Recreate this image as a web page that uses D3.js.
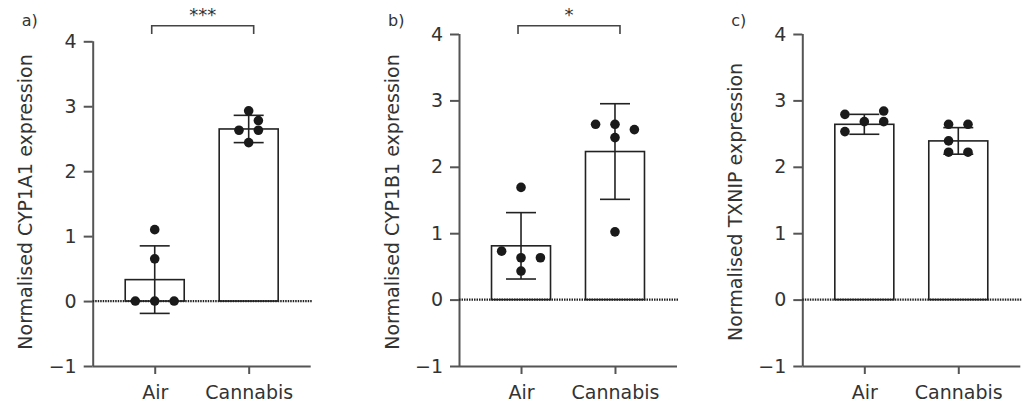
<!DOCTYPE html>
<html>
<head>
<meta charset="utf-8">
<script src="https://cdn.jsdelivr.net/npm/d3@7"></script>
<style>
  body { margin: 0; background: #fff; }
  svg { display: block; }
  text { font-family: "DejaVu Sans", sans-serif; fill: #333; }
</style>
</head>
<body>
<script>
//////////////////////////////// DATA ////////////////////////////////
var groups = ["Air", "Cannabis"];
var yTicks = [-1, 0, 1, 2, 3, 4];
var panelLetters = ["a)", "b)", "c)"];
var yLabels = ["Normalised CYP1A1 expression", "Normalised CYP1B1 expression", "Normalised TXNIP expression"];
var significance = ["***", "*", ""];

// CYP1A1
var cyp1a1Air = [1.10, 0.65, 0, 0, 0];
var cyp1a1Cannabis = [2.93, 2.78, 2.63, 2.63, 2.44];
var cyp1a1Mean = [0.33, 2.65];
var cyp1a1Sd = [0.52, 0.21];

// CYP1B1
var cyp1b1Air = [1.69, 0.73, 0.63, 0.63, 0.43];
var cyp1b1Cannabis = [2.64, 2.64, 2.56, 2.44, 1.02];
var cyp1b1Mean = [0.81, 2.23];
var cyp1b1Sd = [0.50, 0.72];

// TXNIP
var txnipAir = [2.84, 2.79, 2.68, 2.68, 2.53];
var txnipCannabis = [2.64, 2.64, 2.39, 2.22, 2.22];
var txnipMean = [2.64, 2.39];
var txnipSd = [0.15, 0.20];

// horizontal scatter slot of each dot (in dot-column units), same order as values
var cyp1a1AirSlot = [0, 0, -2, 0, 2];
var cyp1a1CannabisSlot = [0, 1, -1, 1, 0];
var cyp1b1AirSlot = [0, -2, 0, 2, 0];
var cyp1b1CannabisSlot = [-2, 0, 2, 0, 0];
var txnipAirSlot = [2, -2, 0, 2, -2];
var txnipCannabisSlot = [-1, 1, -1, -1, 1];

var panels = [
    {points: [cyp1a1Air, cyp1a1Cannabis], slots: [cyp1a1AirSlot, cyp1a1CannabisSlot], mean: cyp1a1Mean, sd: cyp1a1Sd},
    {points: [cyp1b1Air, cyp1b1Cannabis], slots: [cyp1b1AirSlot, cyp1b1CannabisSlot], mean: cyp1b1Mean, sd: cyp1b1Sd},
    {points: [txnipAir, txnipCannabis], slots: [txnipAirSlot, txnipCannabisSlot], mean: txnipMean, sd: txnipSd}
];

//////////////////////////////// LAYOUT ////////////////////////////////
var width = 1024,
    height = 404,
    axisX = [92.7, 459, 802.3],   // left edge of each plot
    yTop = [41.3, 34, 34],        // pixel of value 4
    yBottom = 366,                // pixel of value -1
    plotWidth = 218,
    barWidth = 59,
    capWidth = 30,
    slotStep = 9.7,
    dotR = 4.8,
    fontSize = "19px",
    axisColor = "#555",
    inkColor = "#222";

var svg = d3.select("body").append("svg")
    .attr("width", width)
    .attr("height", height);

panels.forEach(function (p, k) {
    var x0 = axisX[k];
    var g = svg.append("g");

    var y = d3.scaleLinear()
        .domain([-1, 4])
        .range([yBottom, yTop[k]]);

    var x = d3.scalePoint()
        .domain(groups)
        .range([x0, x0 + plotWidth])
        .padding(0.66);

    // axes
    var yAxis = g.append("g")
        .attr("transform", "translate(" + x0 + ",0)")
        .call(d3.axisLeft(y).tickValues(yTicks).tickSize(9).tickPadding(7)
            .tickFormat(function (d) { return d < 0 ? "\u2212" + Math.abs(d) : d; }));
    var xAxis = g.append("g")
        .attr("transform", "translate(0," + yBottom + ")")
        .call(d3.axisBottom(x).tickSize(8).tickPadding(12));

    [yAxis, xAxis].forEach(function (ax) {
        ax.select(".domain").attr("stroke", axisColor).attr("stroke-width", 2);
        ax.selectAll(".tick line").attr("stroke", axisColor).attr("stroke-width", 2);
        ax.selectAll(".tick text")
            .attr("font-size", fontSize)
            .attr("font-family", "DejaVu Sans, sans-serif")
            .attr("fill", "#333");
    });
    // flatten the outer ticks of the domain paths
    xAxis.select(".domain").attr("d", "M" + x0 + ",0.5H" + (x0 + plotWidth));
    yAxis.select(".domain").attr("d", "M0.5," + yBottom + "V" + yTop[k]);

    // bars
    g.selectAll("rect.bar")
        .data(p.mean)
        .enter()
        .append("rect")
        .attr("class", "bar")
        .attr("x", function (d, i) { return x(groups[i]) - barWidth / 2; })
        .attr("width", barWidth)
        .attr("y", function (d) { return y(Math.max(d, 0)); })
        .attr("height", function (d) { return Math.abs(y(d) - y(0)); })
        .attr("fill", "#fff")
        .attr("stroke", inkColor)
        .attr("stroke-width", 1.6);

    // dotted zero line
    g.append("line")
        .attr("x1", x0)
        .attr("x2", x0 + plotWidth + 2)
        .attr("y1", y(0))
        .attr("y2", y(0))
        .attr("stroke", "#222")
        .attr("stroke-width", 2.2)
        .attr("stroke-dasharray", "1.5,1");

    // error bars (mean +/- SD)
    var err = g.selectAll("g.err")
        .data(p.mean)
        .enter()
        .append("g")
        .attr("class", "err")
        .attr("stroke", inkColor)
        .attr("stroke-width", 1.6);
    err.append("line")
        .attr("x1", function (d, i) { return x(groups[i]); })
        .attr("x2", function (d, i) { return x(groups[i]); })
        .attr("y1", function (d, i) { return y(d + p.sd[i]); })
        .attr("y2", function (d, i) { return y(d - p.sd[i]); });
    [1, -1].forEach(function (s) {
        err.append("line")
            .attr("x1", function (d, i) { return x(groups[i]) - capWidth / 2; })
            .attr("x2", function (d, i) { return x(groups[i]) + capWidth / 2; })
            .attr("y1", function (d, i) { return y(d + s * p.sd[i]); })
            .attr("y2", function (d, i) { return y(d + s * p.sd[i]); });
    });

    // individual points
    p.points.forEach(function (vals, gi) {
        g.selectAll("circle.g" + gi)
            .data(vals)
            .enter()
            .append("circle")
            .attr("class", "g" + gi)
            .attr("cx", function (d, i) { return x(groups[gi]) + p.slots[gi][i] * slotStep; })
            .attr("cy", function (d) { return y(d); })
            .attr("r", dotR)
            .attr("fill", "#1a1a1a");
    });

    // y label
    g.append("text")
        .attr("transform", "translate(" + (x0 - 67) + ",202) rotate(-90)")
        .attr("text-anchor", "middle")
        .attr("dy", "0.35em")
        .attr("font-size", fontSize)
        .text(yLabels[k]);

    // panel letter
    g.append("text")
        .attr("x", x0 - 71)
        .attr("y", 26)
        .attr("font-size", "16px")
        .text(panelLetters[k]);

    // significance bracket
    if (significance[k]) {
        var xa = x(groups[0]) - 3, xb = x(groups[1]) + 5;
        g.append("path")
            .attr("d", "M" + xa + ",34V25.7H" + xb + "V34")
            .attr("fill", "none")
            .attr("stroke", "#444")
            .attr("stroke-width", 1.6);
        g.append("text")
            .attr("x", (xa + xb) / 2)
            .attr("y", 21)
            .attr("text-anchor", "middle")
            .attr("font-size", "18px")
            .text(significance[k]);
    }
});
</script>
</body>
</html>
